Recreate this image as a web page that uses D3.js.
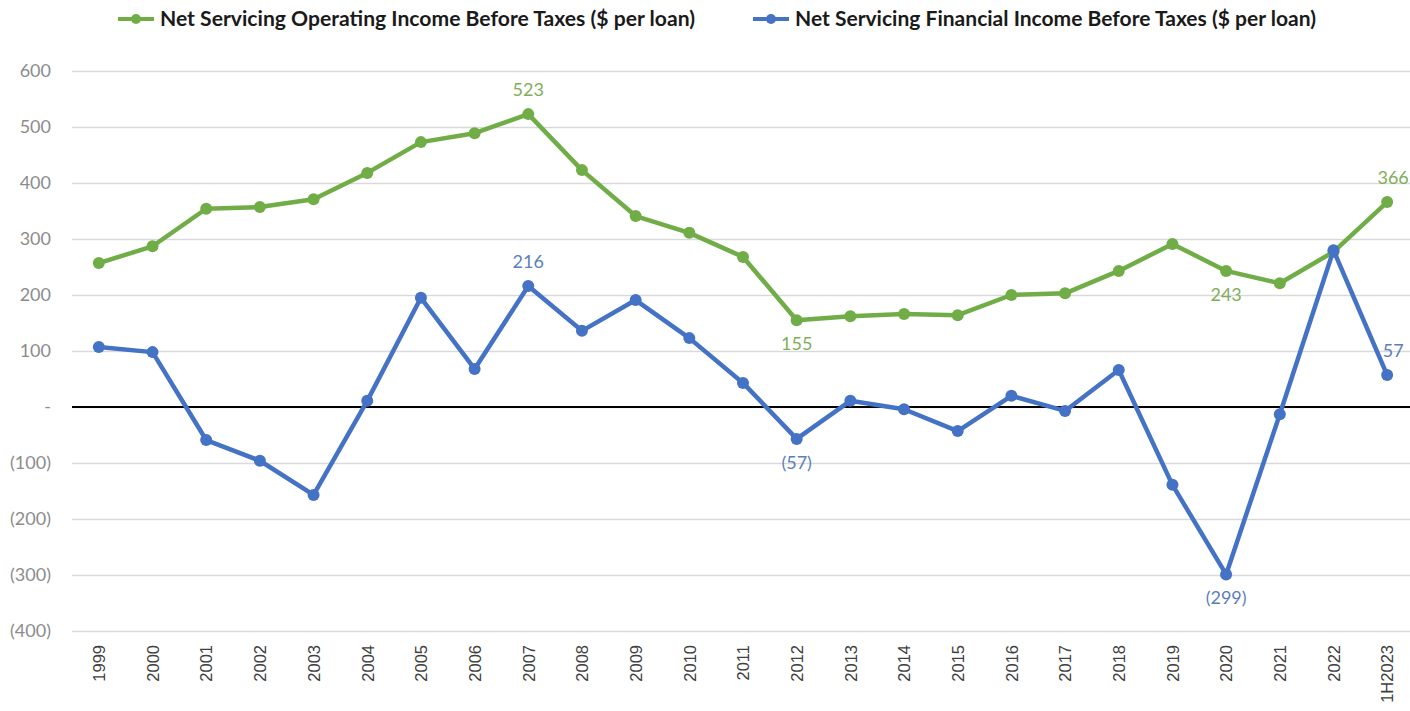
<!DOCTYPE html>
<html>
<head>
<meta charset="utf-8">
<script src="https://cdn.jsdelivr.net/npm/d3@7"></script>
<style>
  body { margin: 0; background: #fff; }
  svg { display: block; }
  .ytick text { font-family: Lato, "Open Sans", sans-serif; font-size: 18px; fill: #8c8c8c; }
  .xtick text { font-family: "Liberation Sans", Arial, sans-serif; font-size: 16.5px; fill: #404040; }
  .legend text { font-family: Lato, sans-serif; font-weight: bold; font-size: 20px; fill: #1a1a1a; }
  .dlabel { font-family: Lato, "Open Sans", sans-serif; font-size: 18px; }
</style>
</head>
<body>
<svg id="chart"></svg>
<script>
// categories and values
var years = ["1999","2000","2001","2002","2003","2004","2005","2006","2007","2008",
             "2009","2010","2011","2012","2013","2014","2015","2016","2017","2018",
             "2019","2020","2021","2022","1H2023"]

var operating = [257,287,354,357,371,418,473,489,523,423,
                 341,311,268,155,162,166,164,200,203,243,
                 291,243,221,277,366]

var financial = [107,98,-59,-96,-157,11,195,68,216,136,
                 191,123,43,-57,11,-4,-43,20,-7,66,
                 -139,-299,-13,280,57]

var yTicks = [600,500,400,300,200,100,0,-100,-200,-300,-400]

var seriesNames = ["Net Servicing Operating Income Before Taxes ($ per loan)",
                   "Net Servicing Financial Income Before Taxes ($ per loan)"]

// which points get a value label and where (above / below)
var opLabels = [{year:"2007",pos:"above"},{year:"2012",pos:"below"},
                {year:"2020",pos:"below"},{year:"1H2023",pos:"above"}]
var finLabels = [{year:"2007",pos:"above"},{year:"2012",pos:"below"},
                 {year:"2020",pos:"below"},{year:"1H2023",pos:"above"}]

var screen = {width:1410,height:711}
var margins = {left:72,right:-4,top:71,bottom:80}
var graph = {width:screen.width-margins.left-margins.right,
             height:screen.height-margins.top-margins.bottom}

var green = "#70ad47", blue = "#4472c4"
var greenText = "#7fae5a", blueText = "#5b7fbd"

var svg = d3.select("#chart")
    .attr("width",screen.width)
    .attr("height",screen.height)

var target = svg.append("g")
    .attr("transform","translate("+margins.left+","+margins.top+")")

var xScale = d3.scalePoint()
    .domain(years)
    .range([0,graph.width])
    .padding(0.5)

var yScale = d3.scaleLinear()
    .domain([-400,600])
    .range([graph.height,0])

var fmt = function(v) {
    if (v === 0) return "-"
    return v < 0 ? "(" + Math.abs(v) + ")" : String(v)
}

//gridlines + y labels
var yAxis = d3.axisLeft(yScale)
    .tickValues(yTicks)
    .tickSize(-graph.width)
    .tickFormat(fmt)
    .tickPadding(21)

target.append("g")
    .attr("class","ytick")
    .call(yAxis)
    .call(function(g) {
        g.select(".domain").remove()
        g.selectAll(".tick line").attr("stroke","#d9d9d9").attr("stroke-width",1.3)
    })

//zero line
target.append("line")
    .attr("x1",0).attr("x2",graph.width)
    .attr("y1",yScale(0)).attr("y2",yScale(0))
    .attr("stroke","#000").attr("stroke-width",2)

//x labels
var xAxis = d3.axisBottom(xScale).tickSize(0).tickPadding(0)
target.append("g")
    .attr("class","xtick")
    .attr("transform","translate(0,"+graph.height+")")
    .call(xAxis)
    .call(function(g) {
        g.select(".domain").remove()
        g.selectAll(".tick text")
            .attr("transform","rotate(-90)")
            .attr("text-anchor","end")
            .attr("x",-14)
            .attr("y",0)
            .attr("dy","0.35em")
    })

var drawSeries = function(values,color) {
    var line = d3.line()
        .x(function(d,i) { return xScale(years[i]) })
        .y(function(d) { return yScale(d) })

    target.append("path")
        .datum(values)
        .attr("d",line)
        .attr("fill","none")
        .attr("stroke",color)
        .attr("stroke-width",4.5)
        .attr("stroke-linejoin","round")

    target.append("g")
        .selectAll("circle")
        .data(values)
        .enter()
        .append("circle")
        .attr("cx",function(d,i) { return xScale(years[i]) })
        .attr("cy",function(d) { return yScale(d) })
        .attr("r",6)
        .attr("fill",color)
}

var drawLabels = function(values,labels,color) {
    target.append("g")
        .selectAll("text")
        .data(labels)
        .enter()
        .append("text")
        .attr("class","dlabel")
        .attr("fill",color)
        .attr("text-anchor","middle")
        .attr("x",function(d) { return xScale(d.year) + (d.year == "1H2023" ? 6 : 0) })
        .attr("y",function(d) {
            var v = values[years.indexOf(d.year)]
            return d.pos == "above" ? yScale(v)-18 : yScale(v)+30
        })
        .text(function(d) { return fmt(values[years.indexOf(d.year)]) })
}

drawSeries(operating,green)
drawSeries(financial,blue)
drawLabels(operating,opLabels,greenText)
drawLabels(financial,finLabels,blueText)

//legend
var legend = svg.append("g").attr("class","legend")
var legendItems = [{name:seriesNames[0],color:green,x:118,w:535},
                   {name:seriesNames[1],color:blue,x:753,w:521}]
legendItems.forEach(function(item) {
    var g = legend.append("g").attr("transform","translate("+item.x+",19)")
    g.append("line").attr("x1",0).attr("x2",36).attr("y1",0).attr("y2",0)
        .attr("stroke",item.color).attr("stroke-width",4)
    g.append("circle").attr("cx",18).attr("cy",0).attr("r",5).attr("fill",item.color)
    g.append("text").attr("x",42).attr("y",0).attr("dy","0.35em")
        .attr("textLength",item.w).attr("lengthAdjust","spacingAndGlyphs")
        .text(item.name)
})
</script>
</body>
</html>
